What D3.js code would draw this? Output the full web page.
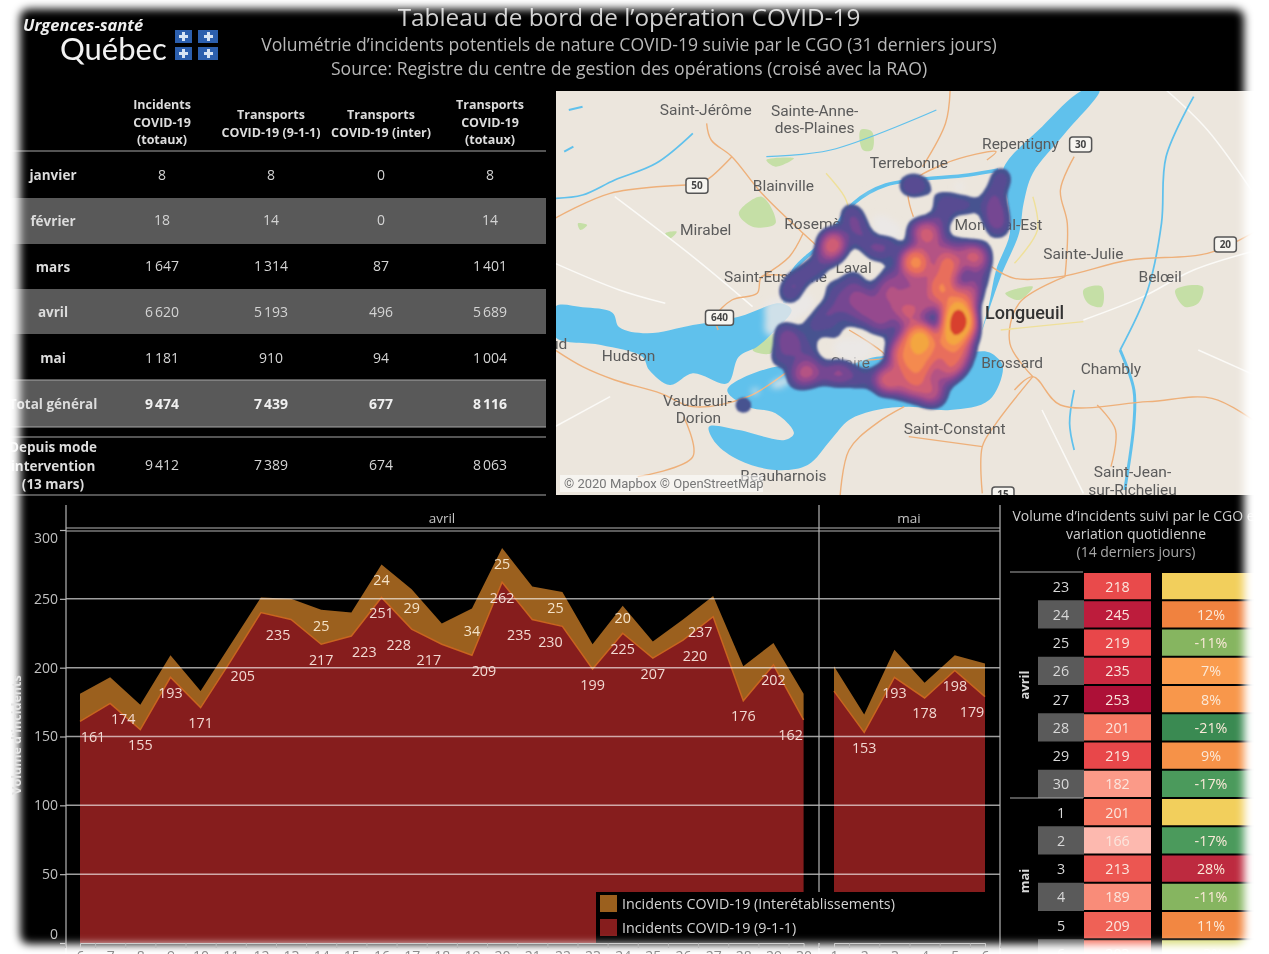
<!DOCTYPE html>
<html lang="fr">
<head>
<meta charset="utf-8">
<title>Tableau de bord de l'opération COVID-19</title>
<script src="https://cdn.jsdelivr.net/npm/d3@7"></script>
<style>
  html, body { margin: 0; background: #fff; }
  svg { display: block; filter: blur(0.5px); font-family: "Open Sans", sans-serif; }
</style>
</head>
<body>
<svg id="dash"></svg>
<script>
// monthly table
const tableRows = ["janvier", "février", "mars", "avril", "mai", "Total général"];
const incidentsTotal = [8, 18, 1647, 6620, 1181, 9474];
const transports911 = [8, 14, 1314, 5193, 910, 7439];
const transportsInter = [0, 0, 87, 496, 94, 677];
const transportsTotal = [8, 14, 1401, 5689, 1004, 8116];
const sinceIntervention = [9412, 7389, 674, 8063];

// daily area chart
const aprilDays = d3.range(6, 31);
const april911 = [161, 174, 155, 193, 171, 205, 240, 235, 217, 223, 251, 228, 217, 209, 262, 235, 230, 199, 225, 207, 220, 237, 176, 202, 162];
const aprilInter = [20, 19, 18, 16, 12, 12, 11, 15, 25, 17, 24, 29, 15, 34, 25, 24, 25, 18, 20, 12, 15, 15, 25, 16, 19];
const mayDays = [1, 2, 3, 4, 5, 6];
const may911 = [183, 153, 193, 178, 198, 179];
const mayInter = [18, 13, 20, 11, 11, 24];
const hiddenAprilLabels = [12];
const hiddenMayLabels = [1];
const labelledAprilInter = [14, 16, 17, 19, 20, 22, 24];

// 14 day panel
const recentMonths = ["avril", "avril", "avril", "avril", "avril", "avril", "avril", "avril", "mai", "mai", "mai", "mai", "mai", "mai"];
const recentDays = [23, 24, 25, 26, 27, 28, 29, 30, 1, 2, 3, 4, 5, 6];
const recentVolume = [218, 245, 219, 235, 253, 201, 219, 182, 201, 166, 213, 189, 209, 203];
const recentChange = [null, 12, -11, 7, 8, -21, 9, -17, null, -17, 28, -11, 11, -3];

// map, in map units
const lakes = [
  [[0, 650], [60, 652], [125, 668], [140, 712], [200, 730], [300, 705], [400, 680], [490, 640], [515, 660], [480, 720], [440, 770], [400, 800], [375, 880], [300, 850], [250, 885], [205, 840], [190, 800], [100, 765], [0, 740]],
  [[375, 900], [480, 830], [600, 840], [700, 800], [770, 800], [840, 800], [940, 785], [960, 800], [975, 830], [945, 930], [860, 960], [770, 950], [700, 960], [640, 990], [600, 1050], [550, 1125], [480, 1140], [400, 1110], [350, 1060], [335, 1010], [400, 1020], [500, 1050], [520, 1030], [480, 970], [420, 950]],
  [[930, 720], [945, 640], [960, 540], [990, 430], [985, 330], [975, 240], [1060, 110], [1150, 0], [1185, 0], [1110, 130], [1040, 250], [1020, 340], [1010, 430], [970, 560], [935, 700]]
];
const rivers = [
  { width: 6, points: [[500, 640], [520, 540], [590, 450], [650, 340], [720, 285], [900, 255], [965, 240]] },
  { width: 2.5, points: [[0, 325], [60, 315], [130, 270], [220, 220], [300, 130]] },
  { width: 1.5, points: [[460, 200], [600, 180], [830, 60]] },
  { width: 2.5, points: [[1390, 20], [1330, 200], [1320, 400], [1290, 600], [1230, 780]] },
  { width: 5, points: [[1230, 780], [1260, 900], [1260, 1000], [1240, 1200]] },
  { width: 2.5, points: [[1130, 900], [1120, 1000], [1130, 1080]] },
  { width: 3, points: [[30, 60], [60, 50]] },
  { width: 3, points: [[20, 185], [40, 170]] }
];
const parks = [
  [[400, 370], [450, 320], [480, 400], [430, 410]],
  [[270, 790], [330, 720], [350, 770], [300, 820]],
  [[460, 210], [520, 205], [480, 230]],
  [[665, 120], [690, 125], [690, 180], [670, 180]],
  [[980, 610], [1040, 590], [1010, 630]],
  [[1350, 600], [1410, 590], [1400, 640], [1370, 650]],
  [[1150, 600], [1190, 590], [1190, 650], [1160, 640]],
  [[430, 780], [480, 730], [470, 790]],
  [[240, 430], [265, 425], [250, 445]],
  [[50, 400], [70, 405], [55, 420]]
];
const orangeRoads = [
  [[330, 100], [340, 150], [385, 200], [450, 310], [540, 430], [580, 480]],
  [[0, 385], [120, 310], [285, 285]],
  [[385, 200], [330, 270], [300, 285]],
  [[355, 720], [350, 680], [385, 630], [440, 610], [450, 560], [520, 560]],
  [[780, 380], [770, 290], [850, 220], [960, 185], [940, 210]],
  [[860, 0], [850, 100], [800, 230]],
  [[1130, 200], [1100, 300], [1115, 400], [1110, 560]],
  [[950, 530], [1000, 565], [1100, 560], [1250, 510], [1420, 490], [1530, 420]],
  [[0, 780], [60, 830], [130, 870], [230, 910], [300, 950], [420, 920], [520, 830]],
  [[1000, 900], [1040, 860], [1100, 945], [1290, 935], [1430, 925], [1530, 1000]],
  [[1180, 945], [1220, 1020], [1210, 1130]],
  [[1040, 860], [960, 1000], [930, 1070], [930, 1210]],
  [[760, 950], [700, 1000], [640, 1080], [620, 1230]],
  [[770, 1040], [930, 1070]],
  [[280, 980], [300, 1100], [180, 1160]],
  [[540, 430], [510, 500], [450, 560]],
  [[640, 720], [720, 800], [680, 810]],
  [[1110, 560], [1010, 640], [990, 760], [1040, 860]]
];
const whiteRoads = [
  [[130, 320], [300, 500], [430, 650]],
  [[1150, 690], [1280, 620], [1390, 540], [1530, 480]],
  [[1330, 0], [1420, 120], [1530, 330]],
  [[0, 1010], [120, 920]],
  [[1060, 960], [1150, 1210]],
  [[1400, 780], [1530, 860]],
  [[0, 520], [140, 600], [240, 640]]
];
const yellowRoads = [
  [[970, 720], [1150, 695]],
  [[590, 250], [630, 320], [640, 360]],
  [[1040, 320], [1050, 420], [1000, 520]]
];
const placeNames = ["Saint-Jérôme", "Sainte-Anne-", "des-Plaines", "Repentigny", "Terrebonne", "Blainville", "Mirabel", "Rosemère", "Montréal-Est", "Sainte-Julie", "Belœil", "Saint-Eustache", "Laval", "Montréal", "Longueuil", "Hudson", "Rigaud", "Brossard", "Chambly", "Pointe-Claire", "Vaudreuil-", "Dorion", "Saint-Constant", "Beauharnois", "Saint-Jean-", "sur-Richelieu"];
const placeX = [328, 565, 565, 1013, 770, 497, 328, 575, 965, 1150, 1317, 480, 650, 838, 1022, 160, -25, 995, 1210, 590, 310, 312, 870, 497, 1257, 1257];
const placeY = [60, 62, 114, 161, 220, 288, 420, 402, 404, 493, 562, 562, 535, 712, 672, 798, 762, 820, 838, 818, 932, 985, 1017, 1157, 1147, 1200];
const shieldNames = ["50", "30", "640", "20", "15"];
const shieldX = [309, 1144, 358, 1459, 975];
const shieldY = [286, 162, 682, 462, 1212];
const heatPoints = [
  [810, 435, 3.5], [785, 515, 7], [855, 530, 5], [915, 500, 3.5], [840, 590, 5], [880, 655, 5.5], [878, 695, 12], [795, 742, 8], [860, 745, 6.5],
  [755, 800, 3.5], [795, 815, 4.5], [870, 815, 3.5], [725, 870, 4.5], [775, 890, 3], [820, 910, 3], [770, 670, 3], [720, 600, 1.8], [660, 620, 1.6],
  [690, 650, 1.6], [610, 600, 0.9], [650, 570, 0.9], [740, 560, 1.2], [770, 600, 1.8], [900, 610, 2.5], [920, 560, 1.2], [880, 480, 1.2], [840, 480, 1.6],
  [800, 570, 1.6], [860, 630, 2.5], [810, 640, 2.5], [740, 640, 1.6], [720, 690, 1.2], [830, 790, 2.5], [800, 770, 2.5], [760, 760, 2.5], [885, 770, 2.5],
  [890, 720, 2.5], [850, 850, 2], [800, 860, 2], [770, 840, 2], [605, 462, 4], [590, 500, 1], [560, 540, 1], [525, 570, 1], [510, 610, 1],
  [645, 370, 1], [655, 410, 1], [670, 450, 1], [700, 480, 1], [730, 470, 0.9], [850, 335, 1], [895, 345, 1], [840, 390, 1], [790, 420, 0.9],
  [970, 265, 1.1], [955, 325, 1.2], [958, 375, 1.5], [965, 415, 1], [770, 285, 1], [800, 288, 0.8], [590, 670, 1.1], [560, 710, 0.9], [610, 730, 0.7],
  [510, 760, 1.4], [500, 725, 0.9], [490, 805, 0.9], [550, 780, 0.9], [545, 845, 2.6], [620, 850, 2], [665, 865, 1], [580, 850, 1], [525, 870, 0.7], [410, 945, 0.9],
  [660, 680, 1], [625, 650, 1], [700, 700, 0.9]
];
const fogPoints = [
  [470, 650, 0.7], [520, 640, 0.7], [470, 720, 0.7], [620, 770, 0.7], [680, 770, 0.7], [430, 905, 0.6], [480, 885, 0.6], [520, 860, 0.5],
  [850, 150, 0.5], [940, 195, 0.6], [700, 300, 0.5], [880, 290, 0.7], [660, 320, 0.5], [720, 420, 0.6], [700, 390, 0.5], [740, 430, 0.6],
  [970, 740, 0.5], [1010, 635, 0.6], [350, 90, 0.3], [550, 640, 0.7], [500, 680, 0.7], [650, 790, 0.7]
];

const width = 1269;
const height = 954;
const labelColor = "#dcdcdc";
const numberFormat = d3.formatLocale({ decimal: ",", thousands: "\u202f", grouping: [3], currency: ["", " $"] }).format(",d");

const svg = d3.select("#dash").attr("width", width).attr("height", height);
const defs = svg.append("defs");
defs.append("filter").attr("id", "edge").attr("x", "-5%").attr("y", "-5%").attr("width", "110%").attr("height", "110%")
  .append("feGaussianBlur").attr("stdDeviation", 4.5);
defs.append("filter").attr("id", "heatBlur").append("feGaussianBlur").attr("stdDeviation", 1.2);
defs.append("filter").attr("id", "fogBlur").append("feGaussianBlur").attr("stdDeviation", 3);
defs.append("clipPath").attr("id", "mapClip").append("rect")
  .attr("x", 556).attr("y", 91).attr("width", 713).attr("height", 404);

svg.append("rect").attr("width", width).attr("height", height).attr("fill", "#000");

// header
svg.append("text").attr("x", 23).attr("y", 31)
  .style("font", "italic 700 16.5px 'Open Sans'").attr("fill", "#eee").text("Urgences-santé");
svg.append("text").attr("x", 60).attr("y", 60)
  .style("font", "400 31px Lato").attr("fill", "#f2f2f2").text("Québec");

const flagCells = [[175, 30], [198, 30], [175, 47], [198, 47]];
const flag = svg.append("g");
flag.selectAll("rect.blue").data(flagCells).join("rect").attr("class", "blue")
  .attr("x", d => d[0]).attr("y", d => d[1]).attr("width", d => 17 + (d[0] > 190 ? 3 : 0)).attr("height", 13).attr("fill", "#2c5fae");
flag.selectAll("path").data(flagCells).join("path")
  .attr("d", d => `M${d[0] + 8.5 + (d[0] > 190 ? 2 : 0)} ${d[1] + 2}v9M${d[0] + 4 + (d[0] > 190 ? 2 : 0)} ${d[1] + 6.5}h9`)
  .attr("stroke", "#d8e4f4").attr("stroke-width", 3);

const titles = [
  { text: "Tableau de bord de l’opération COVID-19", y: 26, size: 24.3 },
  { text: "Volumétrie d’incidents potentiels de nature COVID-19 suivie par le CGO (31 derniers jours)", y: 51, size: 17.6 },
  { text: "Source: Registre du centre de gestion des opérations (croisé avec la RAO)", y: 75, size: 17.6 }
];
svg.selectAll("text.title").data(titles).join("text").attr("class", "title")
  .attr("x", 629).attr("y", d => d.y).attr("text-anchor", "middle")
  .attr("fill", d => (d.size > 20 ? "#d0d0d0" : "#b8b8b8"))
  .style("font-size", d => `${d.size}px`).text(d => d.text);

// monthly table
const columnX = [162, 271, 381, 490];
const rowY = d3.scaleLinear([0, 5], [175, 404]);
const columns = [incidentsTotal, transports911, transportsInter, transportsTotal];
const headers = [
  ["Incidents", "COVID-19", "(totaux)"],
  ["Transports", "COVID-19 (9-1-1)"],
  ["Transports", "COVID-19 (inter)"],
  ["Transports", "COVID-19", "(totaux)"]
];

const table = svg.append("g");
table.selectAll("rect").data([[198, 244], [289, 334], [380, 427]]).join("rect")
  .attr("x", 0).attr("width", 546).attr("y", d => d[0]).attr("height", d => d[1] - d[0]).attr("fill", "#595959");
table.selectAll("line").data([151, 380, 427, 437, 495]).join("line")
  .attr("x1", 0).attr("x2", 546).attr("y1", d => d).attr("y2", d => d)
  .attr("stroke", "#a8a8a8").attr("stroke-width", 1.2);

headers.forEach((lines, c) => {
  const top = lines.length === 3 ? 109 : 119;
  table.selectAll(`text.head${c}`).data(lines).join("text").attr("class", `head${c}`)
    .attr("x", columnX[c]).attr("y", (d, i) => top + i * 17.5).attr("text-anchor", "middle")
    .attr("fill", labelColor).style("font-size", "12.5px").style("font-weight", 700).text(d => d);
});

table.selectAll("text.rowName").data(tableRows).join("text").attr("class", "rowName")
  .attr("x", 53).attr("y", (d, i) => rowY(i) + 5).attr("text-anchor", "middle")
  .attr("fill", labelColor).style("font-size", "13.5px").style("font-weight", 700).text(d => d);

columns.forEach((values, c) => {
  table.selectAll(`text.col${c}`).data(values).join("text").attr("class", `col${c}`)
    .attr("x", columnX[c]).attr("y", (d, i) => rowY(i) + 4.5).attr("text-anchor", "middle")
    .attr("fill", (d, i) => (i === 5 ? "#f0f0f0" : "#d4d4d4"))
    .style("font-size", "14px").style("font-weight", (d, i) => (i === 5 ? 700 : 400))
    .text(numberFormat);
});

table.selectAll("text.since").data(sinceIntervention).join("text").attr("class", "since")
  .attr("x", (d, i) => columnX[i]).attr("y", 470).attr("text-anchor", "middle")
  .attr("fill", "#d4d4d4").style("font-size", "14px").text(numberFormat);
table.selectAll("text.sinceName").data(["Depuis mode", "intervention", "(13 mars)"]).join("text").attr("class", "sinceName")
  .attr("x", 53).attr("y", (d, i) => 452 + i * 18.5).attr("text-anchor", "middle")
  .attr("fill", labelColor).style("font-size", "13.5px").style("font-weight", 700).text(d => d);

// map
const mapX = d3.scaleLinear([0, 1554], [555, 1269]);
const mapY = d3.scaleLinear([0, 1230], [90, 500]);
const mapLine = d3.line().x(d => mapX(d[0])).y(d => mapY(d[1])).curve(d3.curveCatmullRom);
const mapShape = d3.line().x(d => mapX(d[0])).y(d => mapY(d[1])).curve(d3.curveCatmullRomClosed);

const map = svg.append("g").attr("clip-path", "url(#mapClip)");
map.append("rect").attr("x", 556).attr("y", 91).attr("width", 713).attr("height", 404).attr("fill", "#ece6dd");
map.selectAll("path.park").data(parks).join("path").attr("class", "park")
  .attr("d", mapShape).attr("fill", "#c5dfa6");
map.selectAll("path.white").data(whiteRoads).join("path").attr("class", "white")
  .attr("d", mapLine).attr("fill", "none").attr("stroke", "#fbfaf7").attr("stroke-width", 1.5);
map.selectAll("path.lake").data(lakes).join("path").attr("class", "lake")
  .attr("d", mapShape).attr("fill", "#60c1ec");
map.selectAll("path.river").data(rivers).join("path").attr("class", "river")
  .attr("d", d => mapLine(d.points)).attr("fill", "none").attr("stroke", "#60c1ec").attr("stroke-width", d => d.width / 2 + 0.5);
map.selectAll("path.orange").data(orangeRoads).join("path").attr("class", "orange")
  .attr("d", mapLine).attr("fill", "none").attr("stroke", "#eeb07a").attr("stroke-width", 1.4);
map.selectAll("path.yellow").data(yellowRoads).join("path").attr("class", "yellow")
  .attr("d", mapLine).attr("fill", "none").attr("stroke", "#efe09a").attr("stroke-width", 1.4);

map.selectAll("text.place").data(placeNames).join("text").attr("class", "place")
  .attr("x", (d, i) => mapX(placeX[i])).attr("y", (d, i) => mapY(placeY[i]) + 5)
  .attr("text-anchor", "middle").attr("fill", d => (d === "Longueuil" || d === "Montréal" ? "#333" : "#5b5b5b"))
  .style("font-family", "Roboto").style("font-weight", d => (d === "Longueuil" || d === "Montréal" ? 500 : 400))
  .style("font-size", d => (d === "Longueuil" || d === "Montréal" ? "18px" : "15.5px"))
  .text(d => d);

const mapProject = d => [mapX(d[0]), mapY(d[1])];
const fogDensity = d3.contourDensity()
  .x(d => mapProject(d)[0]).y(d => mapProject(d)[1]).weight(d => d[2])
  .size([width, height]).bandwidth(7).thresholds([0.0011]);
map.append("g").attr("filter", "url(#fogBlur)").selectAll("path")
  .data(fogDensity(fogPoints)).join("path")
  .attr("d", d3.geoPath()).attr("fill", "#ebe8e8").attr("fill-opacity", 0.8);

const heatLevels = [0.0012, 0.0018, 0.0027, 0.0038, 0.005, 0.0065, 0.0085, 0.0115, 0.015, 0.022, 0.032];
const heatColors = ["#465290", "#594c92", "#754692", "#954a8e", "#b45284", "#cf5d74", "#e86e5c", "#f48a50", "#f3a640", "#d8402f", "#a90d2a"];
const heatColor = d3.scaleOrdinal(heatLevels, heatColors);
const heatDensity = d3.contourDensity()
  .x(d => mapProject(d)[0]).y(d => mapProject(d)[1]).weight(d => d[2])
  .size([width, height]).bandwidth(7).thresholds(heatLevels);
map.append("g").attr("filter", "url(#heatBlur)").selectAll("path")
  .data(heatDensity(heatPoints)).join("path")
  .attr("d", d3.geoPath()).attr("fill", d => heatColor(d.value));

const shields = map.selectAll("g.shield").data(shieldNames).join("g").attr("class", "shield")
  .attr("transform", (d, i) => `translate(${mapX(shieldX[i])},${mapY(shieldY[i])})`);
shields.append("rect").attr("x", d => (d.length > 2 ? -14 : -11)).attr("y", -7).attr("rx", 3)
  .attr("width", d => (d.length > 2 ? 28 : 22)).attr("height", 15)
  .attr("fill", "#f7f5f0").attr("stroke", "#555").attr("stroke-width", 1.5);
shields.append("text").attr("y", 4).attr("text-anchor", "middle").attr("fill", "#444")
  .style("font-size", "10px").style("font-weight", 700).text(d => d);

map.append("rect").attr("x", 560).attr("y", 475).attr("width", 203).attr("height", 17).attr("fill", "#fff").attr("fill-opacity", 0.55);
map.append("text").attr("x", 564).attr("y", 488).attr("fill", "#777")
  .style("font-family", "Roboto").style("font-size", "13px").text("© 2020 Mapbox © OpenStreetMap");

// area chart
const yScale = d3.scaleLinear([0, 300], [943, 530]);
const aprilX = d3.scaleLinear([6, 30], [80, 803.6]);
const mayX = d3.scaleLinear([1, 6], [834, 985]);

const aprilData = aprilDays.map((day, i) => ({ day, base: april911[i], inter: aprilInter[i] }));
const mayData = mayDays.map((day, i) => ({ day, base: may911[i], inter: mayInter[i] }));

const chart = svg.append("g");
const drawAreas = (data, x) => {
  const redArea = d3.area().x(d => x(d.day)).y0(yScale(0)).y1(d => yScale(d.base));
  const brownArea = d3.area().x(d => x(d.day)).y0(d => yScale(d.base)).y1(d => yScale(d.base + d.inter));
  const edge = d3.line().x(d => x(d.day)).y(d => yScale(d.base));
  chart.append("path").attr("d", redArea(data)).attr("fill", "#861d1d");
  chart.append("path").attr("d", brownArea(data)).attr("fill", "#9b601e");
  chart.append("path").attr("d", edge(data)).attr("fill", "none").attr("stroke", "#c9651f").attr("stroke-width", 1.5);
};
drawAreas(aprilData, aprilX);
drawAreas(mayData, mayX);

const gridValues = [50, 100, 150, 200, 250];
chart.selectAll("line.grid").data(gridValues).join("line").attr("class", "grid")
  .attr("x1", 66).attr("x2", 1000).attr("y1", yScale).attr("y2", yScale)
  .attr("stroke", "#fff").attr("stroke-opacity", 0.62).attr("stroke-width", 1.5);

// frame lines
chart.selectAll("line.top").data([528, 531]).join("line").attr("class", "top")
  .attr("x1", 66).attr("x2", 1000).attr("y1", d => d).attr("y2", d => d)
  .attr("stroke", "#b5b5b5").attr("stroke-width", 1.2);
chart.selectAll("line.frame").data([66, 819, 1000]).join("line").attr("class", "frame")
  .attr("x1", d => d).attr("x2", d => d).attr("y1", 505).attr("y2", 954)
  .attr("stroke", "#b5b5b5").attr("stroke-width", 1.2);

chart.selectAll("text.month").data([["avril", 442], ["mai", 909]]).join("text").attr("class", "month")
  .attr("x", d => d[1]).attr("y", 523).attr("text-anchor", "middle")
  .attr("fill", "#c4c4c4").style("font-size", "13.5px").text(d => d[0]);

// legend
const legendItems = ["Incidents COVID-19 (Interétablissements)", "Incidents COVID-19 (9-1-1)"];
const legendColors = ["#9b601e", "#861d1d"];
const legendTop = d3.scaleLinear([0, 1], [895, 919]);
chart.append("rect").attr("x", 596).attr("y", 892).attr("width", 403).attr("height", 51).attr("fill", "#000");
chart.selectAll("rect.swatch").data(legendItems).join("rect").attr("class", "swatch")
  .attr("x", 600).attr("y", (d, i) => legendTop(i)).attr("width", 17).attr("height", 17)
  .attr("fill", (d, i) => legendColors[i]);
chart.selectAll("text.legend").data(legendItems).join("text").attr("class", "legend")
  .attr("x", 622).attr("y", (d, i) => legendTop(i) + 14)
  .attr("fill", "#d4d4d4").style("font-size", "14.3px").text(d => d);

// axes
const yAxis = d3.axisLeft(yScale).tickValues([0, 50, 100, 150, 200, 250, 300]).tickSize(6).tickPadding(2);
const yAxisG = chart.append("g").attr("transform", "translate(66,0)").call(yAxis);
yAxisG.select(".domain").remove();
yAxisG.selectAll("line").attr("stroke", "#b5b5b5").attr("stroke-width", 1.2);
yAxisG.selectAll("text").attr("fill", "#c0c0c0").style("font-size", "14px").style("font-family", "'Open Sans'")
  .attr("dy", d => (d === 0 ? "-0.3em" : d === 300 ? "0.9em" : "0.32em"));

// value labels
const aprilNudge = [13, 13, 0, 0, 0, 12, 0, -13, 0, 13, 0, -13, -13, 12, 0, -13, -12, 0, 0, 0, 12, -13, 0, 0, -13];
const mayNudge = [0, 0, 0, 0, 0, -13];
const valueLabel = (data, x, nudge, hidden, cls) => {
  chart.selectAll(`text.${cls}`).data(data.filter(d => !hidden.includes(d.day))).join("text").attr("class", cls)
    .attr("x", d => x(d.day) + nudge[data.indexOf(d)]).attr("y", d => yScale(d.base) + 20.5)
    .attr("text-anchor", "middle").attr("fill", "#f2d9d2").style("font-size", "14.3px").text(d => d.base);
};
valueLabel(aprilData, aprilX, aprilNudge, hiddenAprilLabels, "val911");
valueLabel(mayData, mayX, mayNudge, hiddenMayLabels, "valMay");

const interNudge = { 22: -7 };
chart.selectAll("text.inter").data(aprilData.filter(d => labelledAprilInter.includes(d.day))).join("text").attr("class", "inter")
  .attr("x", d => aprilX(d.day) + (interNudge[d.day] || 0))
  .attr("y", d => yScale(d.base + d.inter / 2) + 4)
  .attr("text-anchor", "middle").attr("fill", "#f4e2c8").style("font-size", "14.3px").text(d => d.inter);

// 14 day panel
const panelRow = d3.scaleBand(recentDays.map((d, i) => i), [572, 572 + 14 * 28.25]);
const volumeColor = d3.scaleLinear()
  .domain([166, 182, 201, 219, 235, 245, 253])
  .range(["#fdb9af", "#fb9a88", "#f57560", "#e8474a", "#cc2a40", "#bd1c3c", "#ad1037"]);
const changeColor = d3.scaleLinear()
  .domain([-21, -17, -11, -3, 7, 12, 28])
  .range(["#3a8a52", "#4b9a5c", "#86b560", "#d8dc78", "#fa9c4e", "#f0823f", "#bd2a3f"]);

const panel = svg.append("g");
panel.selectAll("text.panelTitle").data(["Volume d’incidents suivi par le CGO et", "variation quotidienne", "(14 derniers jours)"]).join("text")
  .attr("class", "panelTitle").attr("x", 1136).attr("y", (d, i) => 521 + i * 18)
  .attr("text-anchor", "middle").attr("fill", (d, i) => (i === 2 ? "#a8a8a8" : "#cecece"))
  .style("font-size", "14px").text(d => d);

panel.selectAll("rect.band").data(recentDays.map((d, i) => i).filter(i => i % 2 === 1)).join("rect").attr("class", "band")
  .attr("x", 1038).attr("width", 46).attr("y", d => panelRow(d)).attr("height", panelRow.bandwidth()).attr("fill", "#5a5a5a");
panel.selectAll("line").data([572, 798]).join("line")
  .attr("x1", 1010).attr("x2", 1083).attr("y1", d => d).attr("y2", d => d).attr("stroke", "#a8a8a8").attr("stroke-width", 1.2);
panel.selectAll("text.day").data(recentDays).join("text").attr("class", "day")
  .attr("x", 1061).attr("y", (d, i) => panelRow(i) + 19.5).attr("text-anchor", "middle")
  .attr("fill", "#d8d8d8").style("font-size", "14.3px").text(d => d);

panel.selectAll("rect.volume").data(recentVolume).join("rect").attr("class", "volume")
  .attr("x", 1084).attr("width", 67).attr("y", (d, i) => panelRow(i) + 1).attr("height", panelRow.bandwidth() - 2)
  .attr("fill", volumeColor);
panel.selectAll("text.volume").data(recentVolume).join("text").attr("class", "volume")
  .attr("x", 1117.5).attr("y", (d, i) => panelRow(i) + 19.5).attr("text-anchor", "middle")
  .attr("fill", "#fbe6de").style("font-size", "14.3px").text(d => d);

panel.selectAll("rect.change").data(recentChange).join("rect").attr("class", "change")
  .attr("x", 1162).attr("width", 107).attr("y", (d, i) => panelRow(i) + 1).attr("height", panelRow.bandwidth() - 2)
  .attr("fill", d => (d === null ? "#f2cf5c" : changeColor(d)));
panel.selectAll("text.change").data(recentChange).join("text").attr("class", "change")
  .attr("x", 1211).attr("y", (d, i) => panelRow(i) + 19.5).attr("text-anchor", "middle")
  .attr("fill", "#fbe9d8").style("font-size", "14.3px").text(d => (d === null ? "" : `${d}%`));

panel.selectAll("text.side").data([...new Set(recentMonths)]).join("text").attr("class", "side")
  .attr("transform", (d, i) => `translate(${1029},${i === 0 ? 685 : 881}) rotate(-90)`)
  .attr("text-anchor", "middle").attr("fill", "#d8d8d8").style("font-size", "13px").style("font-weight", 700).text(d => d);

// white feathered edge of the screenshot
svg.append("path")
  .attr("d", `M-30 -30H${width + 30}V${height + 30}H-30Z M30 9 H1234 Q1244 9 1244 19 V934 Q1244 944 1234 944 H30 Q20 944 20 934 V19 Q20 9 30 9Z`)
  .attr("fill", "#fff").attr("fill-rule", "evenodd").attr("filter", "url(#edge)");

// these sit on the feathered edge
svg.append("text").attr("transform", "translate(21,735) rotate(-90)").attr("text-anchor", "middle")
  .attr("fill", "#e4e4e4").style("font-size", "12.5px").style("font-weight", 700).text("Volume d'incidents");

const drawDayAxis = (x, ticks, days) => {
  const marks = d3.axisBottom(x).tickValues(ticks).tickSize(5).tickFormat("");
  const markG = svg.append("g").attr("transform", "translate(0,943)").call(marks);
  markG.select(".domain").attr("stroke", "#cfcfcf");
  markG.selectAll("line").attr("stroke", "#b8b8b8");
  const labels = d3.axisBottom(x).tickValues(days).tickSize(0).tickPadding(8).tickFormat(d3.format("d"));
  const labelG = svg.append("g").attr("transform", "translate(0,943)").call(labels);
  labelG.select(".domain").remove();
  labelG.selectAll("text").attr("fill", "#8c8c8c").style("font-size", "14px").style("font-family", "'Open Sans'");
};
drawDayAxis(aprilX, d3.range(5.5, 31), aprilDays);
drawDayAxis(mayX, d3.range(0.5, 7), mayDays);
</script>
</body>
</html>
